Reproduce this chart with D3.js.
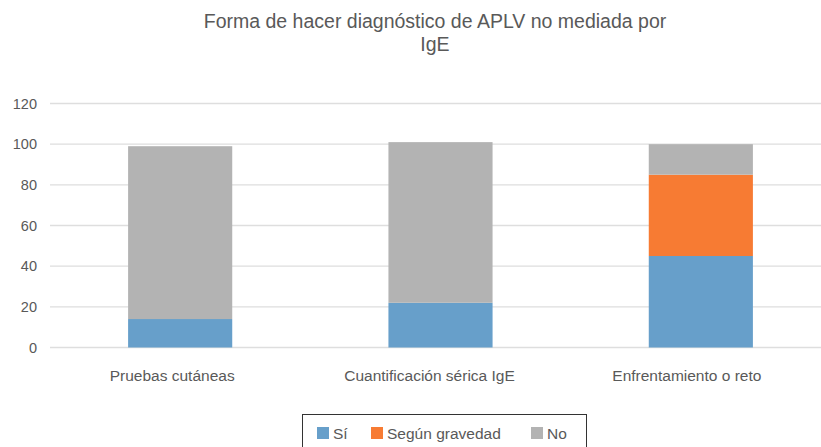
<!DOCTYPE html>
<html>
<head>
<meta charset="utf-8">
<script src="https://cdn.jsdelivr.net/npm/d3@7"></script>
<style>
  body { margin: 0; background: #fff; }
  text { font-family: "Liberation Sans", Arial, sans-serif; fill: #595959; }
</style>
</head>
<body>
<svg id="chart" width="821" height="447"></svg>
<script>
var categories = ["Pruebas cutáneas", "Cuantificación sérica IgE", "Enfrentamiento o reto"];
var series = ["Sí", "Según gravedad", "No"];
var si = [14, 22, 45];
var segun = [0, 0, 40];
var no = [85, 79, 15];
var yTicks = [0, 20, 40, 60, 80, 100, 120];
var colors = ["#679fca", "#f77b33", "#b3b3b3"];

var svg = d3.select("#chart");

var data = categories.map(function(c, i) {
  return {cat: c, "Sí": si[i], "Según gravedad": segun[i], "No": no[i]};
});

var x = d3.scaleBand()
  .domain(categories)
  .range([50, 831])
  .paddingInner(0.6)
  .paddingOuter(0.3);

var y = d3.scaleLinear()
  .domain([0, 120])
  .range([347.5, 103.5]);

// gridlines
svg.append("g")
  .selectAll("line")
  .data(yTicks)
  .enter().append("line")
    .attr("x1", 50)
    .attr("x2", 821)
    .attr("y1", function(d) { return y(d); })
    .attr("y2", function(d) { return y(d); })
    .attr("stroke", "#dedede")
    .attr("stroke-width", 1.3);

// y labels
svg.append("g")
  .selectAll("text")
  .data(yTicks)
  .enter().append("text")
    .attr("x", 37)
    .attr("y", function(d) { return y(d); })
    .attr("dy", "0.35em")
    .attr("text-anchor", "end")
    .style("font-size", "14.5px")
    .text(function(d) { return d; });

var stack = d3.stack().keys(series)(data);

svg.append("g")
  .selectAll("g")
  .data(stack)
  .enter().append("g")
    .attr("fill", function(d, i) { return colors[i]; })
  .selectAll("rect")
  .data(function(d) { return d; })
  .enter().append("rect")
    .attr("x", function(d) { return x(d.data.cat); })
    .attr("width", x.bandwidth())
    .attr("y", function(d) { return y(d[1]); })
    .attr("height", function(d) { return y(d[0]) - y(d[1]); });

// x labels (sit a little left of the bar centres, as in the original)
svg.append("g")
  .selectAll("text")
  .data(categories)
  .enter().append("text")
    .attr("x", function(d, i) { return x(d) + x.bandwidth() / 2 - (8 + 3 * i); })
    .attr("y", 381)
    .attr("text-anchor", "middle")
    .style("font-size", "15.5px")
    .text(function(d) { return d; });

// title
var title = svg.append("text")
  .attr("x", 435)
  .attr("y", 28)
  .attr("text-anchor", "middle")
  .style("font-size", "19.5px");
title.append("tspan").attr("x", 435).text("Forma de hacer diagnóstico de APLV no mediada por");
title.append("tspan").attr("x", 435).attr("dy", 23).text("IgE");

// legend
var legend = svg.append("g");
legend.append("rect")
  .attr("x", 302.5)
  .attr("y", 414.5)
  .attr("width", 284)
  .attr("height", 40)
  .attr("fill", "none")
  .attr("stroke", "#333")
  .attr("stroke-width", 1);

var legendX = [317, 371, 531];
series.forEach(function(s, i) {
  legend.append("rect")
    .attr("x", legendX[i])
    .attr("y", 427)
    .attr("width", 12)
    .attr("height", 12)
    .attr("fill", colors[i]);
  legend.append("text")
    .attr("x", legendX[i] + 16)
    .attr("y", 439)
    .style("font-size", "15.5px")
    .text(s);
});
</script>
</body>
</html>
